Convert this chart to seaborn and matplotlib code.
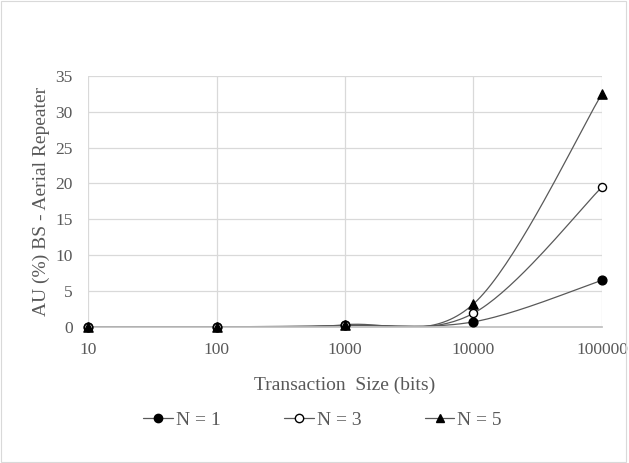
import numpy as np
import pandas as pd
import matplotlib
matplotlib.use("Agg")
import matplotlib.pyplot as plt
import seaborn as sns
from matplotlib.lines import Line2D
from matplotlib.patches import Rectangle

# ---- data ----
sizes = [10, 100, 1000, 10000, 100000]
n1 = [0.0, 0.0, 0.2, 0.7, 6.5]
n3 = [0.0, 0.0, 0.2, 1.9, 19.5]
n5 = [0.0, 0.0, 0.3, 3.2, 32.5]
series_names = ["N = 1", "N = 3", "N = 5"]
y_ticks = [0, 5, 10, 15, 20, 25, 30, 35]

sns.set_theme(style="white")
plt.rcParams['font.family'] = ['Liberation Serif', 'DejaVu Serif']
txt = "#595959"

fig = plt.figure(figsize=(6.29, 4.63), dpi=100)
ax = fig.add_axes([0.140, 0.294, 0.817, 0.542])

def smooth(xs, ys, n=40):
    # Excel-style smoothed line (Catmull-Rom Bezier) in log-x space
    lx = np.log10(xs); ys = np.asarray(ys, float)
    px, py = [], []
    for i in range(len(lx) - 1):
        p0 = (lx[max(i-1, 0)], ys[max(i-1, 0)])
        p1 = (lx[i], ys[i]); p2 = (lx[i+1], ys[i+1])
        p3 = (lx[min(i+2, len(lx)-1)], ys[min(i+2, len(lx)-1)])
        c1 = (p1[0] + (p2[0]-p0[0])/6, p1[1] + (p2[1]-p0[1])/6)
        c2 = (p2[0] - (p3[0]-p1[0])/6, p2[1] - (p3[1]-p1[1])/6)
        t = np.linspace(0, 1, n)
        bx = (1-t)**3*p1[0] + 3*(1-t)**2*t*c1[0] + 3*(1-t)*t**2*c2[0] + t**3*p2[0]
        by = (1-t)**3*p1[1] + 3*(1-t)**2*t*c1[1] + 3*(1-t)*t**2*c2[1] + t**3*p2[1]
        px.extend(10**bx); py.extend(by)
    return np.array(px), np.array(py)

markers = {"N = 1": "o", "N = 3": "o", "N = 5": "^"}
faces = {"N = 1": "black", "N = 3": "white", "N = 5": "black"}
sizes_m = {"N = 1": 40, "N = 3": 34, "N = 5": 44}
line_col = "#595959"

for name, vals in zip(series_names, [n1, n3, n5]):
    sx, sy = smooth(sizes, vals)
    sns.lineplot(x=sx, y=sy, ax=ax, color=line_col, lw=0.9, sort=False,
                 estimator=None, legend=False)
    pts = pd.DataFrame({"x": sizes, "y": vals})
    sns.scatterplot(data=pts, x="x", y="y", ax=ax, marker=markers[name],
                    s=sizes_m[name], color=faces[name], edgecolor="black", linewidth=1.0,
                    legend=False, zorder=5, clip_on=False)

ax.set_xscale("log")
ax.set_xlim(10, 100000)
ax.set_ylim(0, 35)
ax.set_xticks(sizes)
ax.set_xticklabels([str(s) for s in sizes])
ax.minorticks_off()
ax.set_yticks(y_ticks)
ax.set_yticklabels([str(v) for v in y_ticks])
ax.grid(True, color="#d9d9d9", lw=0.9)
for s in ax.spines.values():
    s.set_visible(False)
ax.spines["bottom"].set_visible(True)
ax.spines["bottom"].set_color("#bfbfbf")
ax.tick_params(axis="x", colors=txt, labelsize=12.5, length=0, pad=11)
ax.tick_params(axis="y", colors=txt, labelsize=12.5, length=0, pad=11)
for lab in ax.get_xticklabels() + ax.get_yticklabels():
    lab.set_color(txt)
ax.set_xlabel("Transaction  Size (bits)", fontsize=14, color=txt, labelpad=13)
ax.set_ylabel("AU (%) BS - Aerial Repeater", fontsize=14, color=txt, labelpad=4)

handles = [Line2D([0], [0], color=line_col, lw=0.9, marker=markers[n],
                  markerfacecolor=faces[n], markeredgecolor="black",
                  markersize=6.0) for n in series_names]
fig.legend(handles, series_names, loc="center", bbox_to_anchor=(0.513, 0.093),
           ncol=3, frameon=False, fontsize=14, labelcolor=txt,
           handlelength=1.5, handletextpad=0.15, columnspacing=3.3)

fig.patches.append(Rectangle((0.002, 0.003), 0.994, 0.994, transform=fig.transFigure,
                             fill=False, edgecolor="#d9d9d9", lw=0.8))
fig.savefig("out.png", dpi=100)
